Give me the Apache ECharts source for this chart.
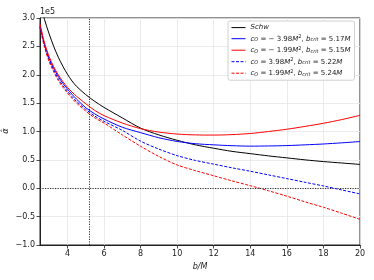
<!DOCTYPE html>
<html><head><meta charset="utf-8">
<script src="https://cdn.jsdelivr.net/npm/echarts@6/dist/echarts.min.js"></script>
<style>html,body{margin:0;padding:0;background:#fff}#c{width:374px;height:280px}</style>
</head><body><div id="c"></div>
<script>
// b/M sample positions
const bValues = [2.5, 2.75, 3, 3.25, 3.5, 3.75, 4, 4.25, 4.5, 5, 5.5, 6, 7, 8, 9, 10, 11, 12, 13, 14, 15, 16, 17, 18, 19, 20];
// deflection angle values in units of 1e5
const schw     = [3.28, 2.97, 2.72, 2.50, 2.31, 2.15, 2.01, 1.89, 1.795, 1.65, 1.53, 1.425, 1.24, 1.06, 0.94, 0.845, 0.765, 0.705, 0.65, 0.61, 0.57, 0.535, 0.50, 0.47, 0.445, 0.42];
const redSolid = [2.90, 2.56, 2.32, 2.14, 2.00, 1.88, 1.78, 1.695, 1.62, 1.49, 1.37, 1.28, 1.15, 1.05, 0.99, 0.955, 0.94, 0.937, 0.945, 0.965, 1.0, 1.04, 1.09, 1.145, 1.21, 1.285];
const blueSolid= [2.86, 2.53, 2.29, 2.11, 1.97, 1.85, 1.75, 1.655, 1.57, 1.42, 1.31, 1.22, 1.075, 0.98, 0.89, 0.825, 0.785, 0.765, 0.75, 0.742, 0.745, 0.752, 0.765, 0.78, 0.80, 0.823];
const blueDash = [2.84, 2.50, 2.26, 2.08, 1.93, 1.81, 1.71, 1.615, 1.53, 1.39, 1.27, 1.18, 1.02, 0.83, 0.69, 0.575, 0.49, 0.425, 0.36, 0.30, 0.235, 0.17, 0.105, 0.04, -0.03, -0.10];
const redDash  = [2.83, 2.48, 2.23, 2.05, 1.90, 1.78, 1.68, 1.585, 1.50, 1.36, 1.24, 1.15, 0.94, 0.74, 0.56, 0.41, 0.31, 0.22, 0.13, 0.045, -0.045, -0.14, -0.24, -0.335, -0.44, -0.548];
const xTicks = [4, 6, 8, 10, 12, 14, 16, 18, 20];
const bPhoton = 5.196;
const seriesNames = ['Schw', 's1', 's2', 's3', 's4'];
const cOValues = ['', '− 3.98', '− 1.99', '3.98', '1.99'];
const bCritValues = ['', '5.17', '5.15', '5.22', '5.24'];

const zip = v => bValues.map((b, i) => [b, v[i]]);
const font = 'DejaVu Sans';
const chart = echarts.init(document.getElementById('c'), null, {renderer: 'canvas'});

function mk(name, vals, color, dashed) {
  return {
    name, type: 'line', data: zip(vals), smooth: 0.3, symbol: 'none', clip: true,
    lineStyle: {color, width: 1, type: dashed ? [3, 1.5] : 'solid'},
    itemStyle: {color}, z: 3
  };
}
const series = [
  mk(seriesNames[0], schw, '#000000', false),
  mk(seriesNames[1], blueSolid, '#0000ff', false),
  mk(seriesNames[2], redSolid, '#ff0000', false),
  mk(seriesNames[3], blueDash, '#0000ff', true),
  mk(seriesNames[4], redDash, '#ff0000', true),
  {
    name: 'refs', type: 'line', data: [], symbol: 'none', z: 2,
    markLine: {
      silent: true, symbol: 'none', label: {show: false}, animation: false,
      lineStyle: {color: '#333', width: 1, type: [1.2, 1.3]},
      data: [{xAxis: bPhoton}, {yAxis: 0}]
    }
  }
];

chart.setOption({
  animation: false,
  textStyle: {fontFamily: font},
  grid: {left: 40, right: 14, top: 18, bottom: 35, show: true, borderColor: '#222', borderWidth: 1, backgroundColor: 'transparent'},
  xAxis: {
    type: 'value', min: 2.5, max: 20,
    name: 'b/M', nameLocation: 'middle', nameGap: 16,
    nameTextStyle: {fontFamily: font, fontSize: 8, fontStyle: 'italic', color: '#222'},
    axisLine: {show: true, onZero: false, lineStyle: {color: '#222', width: 1}},
    axisTick: {show: true, length: 3.5, lineStyle: {color: '#222', width: 0.8}, customValues: xTicks},
    axisLabel: {fontFamily: font, fontSize: 8, color: '#222', margin: 5, customValues: xTicks},
    splitLine: {show: true, lineStyle: {color: '#e6e6e6', width: 0.8}}
  },
  yAxis: {
    type: 'value', min: -1, max: 3, interval: 0.5,
    axisLine: {show: true, onZero: false, lineStyle: {color: '#222', width: 1}},
    axisTick: {show: true, length: 3.5, lineStyle: {color: '#222', width: 0.8}},
    axisLabel: {fontFamily: font, fontSize: 8, color: '#222', margin: 5,
      formatter: v => v.toFixed(1).replace('-', '−')},
    splitLine: {show: true, lineStyle: {color: '#e6e6e6', width: 0.8}}
  },
  legend: {
    orient: 'vertical', left: 228, top: 21, width: 129,
    backgroundColor: '#fff', borderColor: '#d0d0d0', borderWidth: 1, borderRadius: 2,
    padding: [3, 4, 3, 3], itemGap: 3.5, itemWidth: 14, itemHeight: 9,
    itemStyle: {opacity: 0},
    lineStyle: {width: 1},
    data: seriesNames.map(n => ({name: n})),
    textStyle: {fontFamily: font, fontSize: 7, color: '#222',
      rich: {
        i: {fontFamily: font, fontSize: 7, fontStyle: 'italic', color: '#222'},
        n: {fontFamily: font, fontSize: 7, color: '#222'},
        sub: {fontFamily: font, fontSize: 5, fontStyle: 'italic', color: '#222', padding: [3, 0, 0, 0]},
        sup: {fontFamily: font, fontSize: 5, color: '#222', padding: [0, 0, 3, 0]}
      }},
    formatter: name => {
      const k = seriesNames.indexOf(name);
      if (k === 0) return '{i|Schw}';
      return '{i|c}{sub|O}{n| = ' + cOValues[k] + '}{i|M}{sup|2}{n|, }{i|b}{sub|crit}{n| = ' + bCritValues[k] + '}{i|M}';
    }
  },
  graphic: [
    {type: 'text', left: 40, top: 8, style: {text: '1e5', font: '8px "DejaVu Sans"', fill: '#222'}},
    {type: 'text', x: 6, y: 131, rotation: Math.PI / 2, style: {text: 'α̂', font: 'italic 8px "DejaVu Sans"', fill: '#222', align: 'center', verticalAlign: 'middle'}}
  ],
  series
});
</script></body></html>
